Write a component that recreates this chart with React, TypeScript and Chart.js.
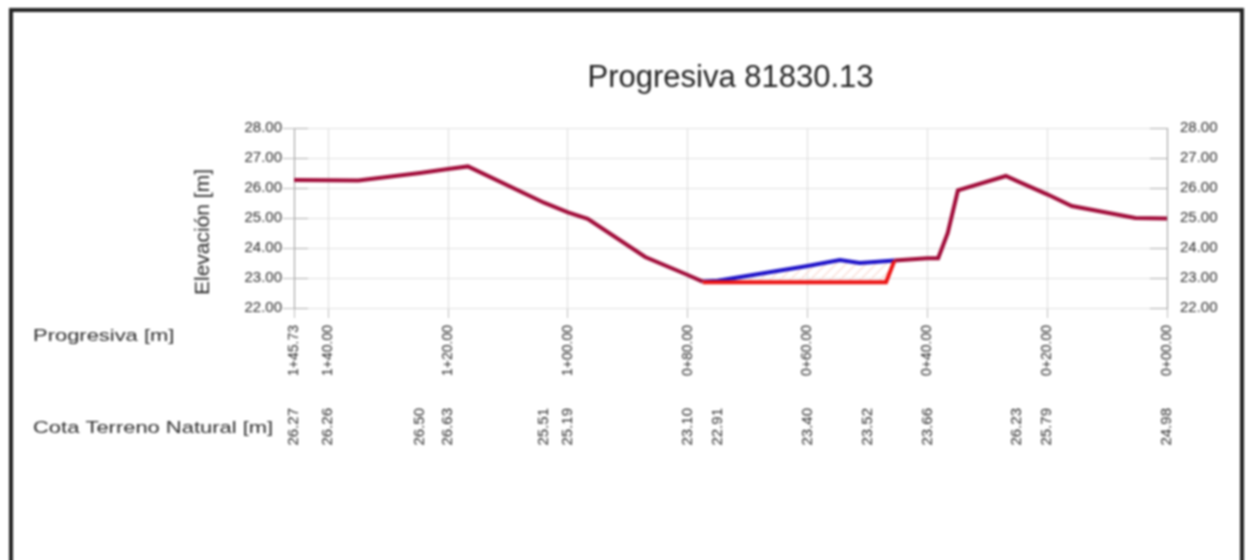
import React, { useEffect, useRef } from "react";
import { Chart, registerables } from "chart.js";

Chart.register(...registerables);

const TITLE = "Progresiva 81830.13";
const Y_TITLE = "Elevación [m]";
const ROW_LABELS = ["Progresiva [m]", "Cota Terreno Natural [m]"];

const elevationTicks = [22, 23, 24, 25, 26, 27, 28];
const stationTicks = [145.73, 140, 120, 100, 80, 60, 40, 20, 0];
const stationLabels = ["1+45.73", "1+40.00", "1+20.00", "1+00.00", "0+80.00", "0+60.00", "0+40.00", "0+20.00", "0+00.00"];
const cotaStations = [145.73, 140, 124.7, 120, 104, 100, 80, 75, 60, 50, 40, 25, 20, 0];
const cotaLabels = ["26.27", "26.26", "26.50", "26.63", "25.51", "25.19", "23.10", "22.91", "23.40", "23.52", "23.66", "26.23", "25.79", "24.98"];

const leftStations = [145.73, 140, 135, 124.7, 120, 116.7, 104, 100, 96.7, 87.1, 80, 77.5];
const leftElevations = [26.27, 26.26, 26.25, 26.5, 26.63, 26.72, 25.51, 25.19, 24.97, 23.7, 23.1, 22.88];
const naturalStations = [77.5, 75, 60, 54.6, 51.3, 50, 45.5];
const naturalElevations = [22.88, 22.91, 23.4, 23.6, 23.5, 23.52, 23.58];
const designStations = [77.5, 46.9, 45.5];
const designElevations = [22.86, 22.86, 23.58];
const rightStations = [45.5, 40, 38.2, 36.6, 34.9, 26.9, 25, 20, 15.9, 5.3, 0];
const rightElevations = [23.58, 23.66, 23.66, 24.5, 25.92, 26.4, 26.23, 25.79, 25.4, 25.0, 24.98];

const pts = (xs: number[], ys: number[]) => xs.map((x, i) => ({ x, y: ys[i] }));

function hatch(): CanvasPattern | string {
  const c = document.createElement("canvas");
  c.width = 10;
  c.height = 10;
  const g = c.getContext("2d");
  if (!g) return "transparent";
  g.strokeStyle = "#f8d8cf";
  g.lineWidth = 1.2;
  g.beginPath();
  g.moveTo(-2, 12);
  g.lineTo(12, -2);
  g.moveTo(-7, 7);
  g.lineTo(7, -7);
  g.moveTo(3, 17);
  g.lineTo(17, 3);
  g.stroke();
  return g.createPattern(c, "repeat") || "transparent";
}

const annotationPlugin = {
  id: "annotations",
  beforeDatasetsDraw(chart: any) {
    const { ctx, chartArea, scales } = chart;
    ctx.save();
    ctx.strokeStyle = "#aaa";
    ctx.lineWidth = 1;
    ctx.beginPath();
    for (const v of elevationTicks) {
      const y = Math.round(scales.y.getPixelForValue(v)) + 0.5;
      ctx.moveTo(chartArea.left, y);
      ctx.lineTo(chartArea.left + 14, y);
      ctx.moveTo(chartArea.right - 17, y);
      ctx.lineTo(chartArea.right, y);
    }
    ctx.stroke();
    ctx.restore();
  },
  afterDraw(chart: any) {
    const { ctx } = chart;
    const stretched = (text: string, x: number, y: number) => {
      ctx.save();
      ctx.translate(x, y);
      ctx.scale(1.29, 1);
      ctx.fillText(text, 0, 0);
      ctx.restore();
    };
    ctx.save();
    ctx.font = '17px "Liberation Sans"';
    ctx.fillStyle = "#2a2a2a";
    ctx.textAlign = "left";
    ctx.textBaseline = "middle";
    stretched(ROW_LABELS[0], 33, 336);
    stretched(ROW_LABELS[1], 33, 428);
    ctx.translate(203, 232);
    ctx.rotate(-Math.PI / 2);
    ctx.font = '21px "Liberation Sans"';
    ctx.textAlign = "center";
    ctx.fillText(Y_TITLE, 0, 0);
    ctx.restore();
  },
};

export default function App() {
  const ref = useRef<HTMLCanvasElement>(null);
  useEffect(() => {
    document.body.style.margin = "0";
    const crimson = "#a00a38";
    const text = "#2a2a2a";
    const line = { borderWidth: 4, pointRadius: 0, tension: 0, showLine: true, fill: false };
    const font = { family: '"Liberation Sans"' };
    const chart = new Chart(ref.current as HTMLCanvasElement, {
      type: "scatter",
      data: {
        datasets: [
          { ...line, data: pts(naturalStations, naturalElevations), borderColor: "#1c10c8", fill: { target: 1 }, backgroundColor: hatch(), order: 3 },
          { ...line, data: pts(designStations, designElevations), borderColor: "#ec1212", order: 1 },
          { ...line, data: pts(leftStations, leftElevations), borderColor: crimson, order: 2 },
          { ...line, data: pts(rightStations, rightElevations), borderColor: crimson, order: 2 },
        ],
      },
      plugins: [annotationPlugin],
      options: {
        animation: false,
        responsive: false,
        layout: { padding: 0 },
        plugins: {
          legend: { display: false },
          tooltip: { enabled: false },
          title: {
            display: true,
            text: TITLE,
            fullSize: false,
            color: "#222",
            font: { ...font, size: 31, weight: "normal", lineHeight: 1.2 },
            padding: { top: 59.4, bottom: 31.4 },
          },
        },
        scales: {
          x: {
            type: "linear",
            position: "bottom",
            reverse: true,
            min: 0,
            max: 145.73,
            afterBuildTicks: (s: any) => { s.ticks = stationTicks.map((value) => ({ value })); },
            afterFit: (s: any) => { s.height = 95; },
            grid: { color: "#dcdcdc", tickColor: "#bbb", tickLength: 10, lineWidth: 1 },
            border: { display: false },
            ticks: {
              autoSkip: false,
              minRotation: 90,
              maxRotation: 90,
              padding: 7,
              color: text,
              font: { ...font, size: 14 },
              callback: (_v: any, i: number) => stationLabels[i],
            },
          },
          x2: {
            type: "linear",
            position: "bottom",
            reverse: true,
            min: 0,
            max: 145.73,
            afterBuildTicks: (s: any) => { s.ticks = cotaStations.map((value) => ({ value })); },
            afterFit: (s: any) => { s.height = 157; },
            grid: { display: false, drawTicks: false },
            border: { display: false },
            ticks: {
              autoSkip: false,
              minRotation: 90,
              maxRotation: 90,
              padding: 5,
              color: text,
              font: { ...font, size: 15 },
              callback: (_v: any, i: number) => cotaLabels[i],
            },
          },
          y: {
            type: "linear",
            position: "left",
            min: 22,
            max: 28,
            afterBuildTicks: (s: any) => { s.ticks = elevationTicks.map((value) => ({ value })); },
            afterFit: (s: any) => { s.width = 294; },
            grid: { color: "#e0e0e0", tickColor: "#bbb", tickLength: 11 },
            border: { color: "#999" },
            ticks: { padding: 1, color: text, font: { ...font, size: 15 }, callback: (v: any) => Number(v).toFixed(2) },
          },
          y2: {
            type: "linear",
            position: "right",
            min: 22,
            max: 28,
            afterBuildTicks: (s: any) => { s.ticks = elevationTicks.map((value) => ({ value })); },
            afterFit: (s: any) => { s.width = 79; },
            grid: { display: false, drawTicks: true, tickColor: "#bbb", tickLength: 11 },
            border: { color: "#999" },
            ticks: { padding: 2, color: text, font: { ...font, size: 15 }, callback: (v: any) => Number(v).toFixed(2) },
          },
        },
      } as any,
    });
    return () => chart.destroy();
  }, []);
  return (
    <div style={{ position: "relative", width: 1246, height: 560, overflow: "hidden", background: "#fff" }}>
      <canvas ref={ref} width={1246} height={560} style={{ display: "block", position: "absolute", left: 0, top: 0, filter: "blur(0.8px)" }} />
      <div style={{ position: "absolute", left: 9, top: 8, width: 1227, height: 600, border: "4px solid #222", boxSizing: "content-box", filter: "blur(0.8px)" }} />
    </div>
  );
}
